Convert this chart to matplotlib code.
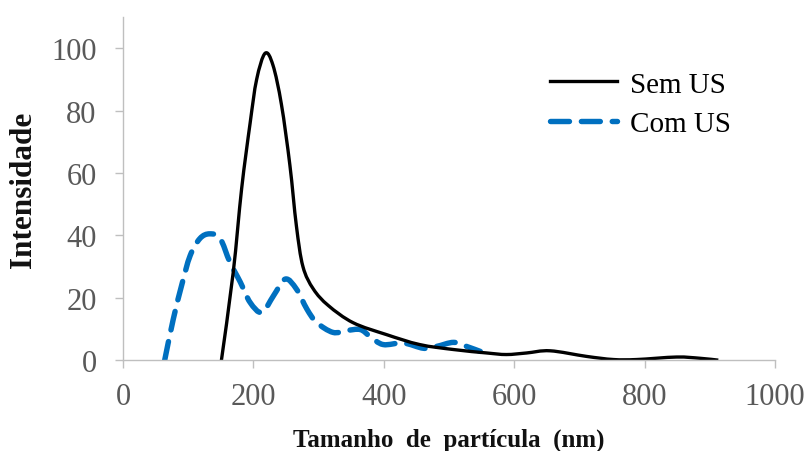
import numpy as np
import matplotlib
matplotlib.use("Agg")
import matplotlib.pyplot as plt
from matplotlib.path import Path
from matplotlib.patches import PathPatch
from matplotlib.lines import Line2D

# Data
sem_x = [151, 169, 182, 195, 205, 218, 230, 243, 256, 266, 276, 292, 315, 353, 404,
         455, 507, 558, 588, 619, 655, 711, 752, 788, 849, 885, 913]
sem_y = [0, 28, 55, 76, 90, 98.4, 94.6, 82, 62.5, 43, 30, 22.8, 17.5, 12, 8.2,
         5, 3.4, 2.3, 1.8, 2.3, 3, 1.2, 0.2, 0.2, 1, 0.6, 0]

com_x = [64, 77, 90, 103, 118, 133, 149, 164, 180, 195, 213, 231, 249, 266, 282, 297,
         322, 343, 364, 379, 399, 430, 461, 481, 507, 527, 548]
com_y = [0, 13, 24, 33.5, 39, 40.5, 39, 31.4, 25, 18.5, 15.3, 20.7, 26, 22.8, 16.4, 12.1,
         8.9, 9.5, 9.8, 7.6, 5, 5.5, 3.8, 4.4, 5.7, 4.4, 2.8]

labels = ["Sem US", "Com US"]
xticks = [0, 200, 400, 600, 800, 1000]
yticks = [0, 20, 40, 60, 80, 100]

SERIF = ["Liberation Serif", "DejaVu Serif"]
plt.rcParams["font.family"] = SERIF


def smooth_path(xs, ys):
    pts = np.column_stack([xs, ys]).astype(float)
    n = len(pts)
    verts = [pts[0]]
    codes = [Path.MOVETO]
    for i in range(n - 1):
        p0 = pts[i - 1] if i > 0 else pts[i]
        p1 = pts[i]
        p2 = pts[i + 1]
        p3 = pts[i + 2] if i + 2 < n else pts[i + 1]
        c1 = p1 + (p2 - p0) / 6.0
        c2 = p2 - (p3 - p1) / 6.0
        verts += [c1, c2, p2]
        codes += [Path.CURVE4] * 3
    return Path(verts, codes)


fig = plt.figure(figsize=(8.09, 4.52), dpi=100)
ax = fig.add_axes([0.152, 0.201, 0.806, 0.759])

black = "#000000"
blue = "#0070C0"
dash = (0, (3.5, 2.2))

p1 = PathPatch(smooth_path(sem_x, sem_y), fill=False, edgecolor=black, lw=2.4,
               capstyle="butt", joinstyle="round")
p2 = PathPatch(smooth_path(com_x, com_y), fill=False, edgecolor=blue, lw=3.9,
               linestyle=dash, capstyle="round", joinstyle="round")
ax.add_patch(p2)
ax.add_patch(p1)

ax.set_xlim(0, 1000)
ax.set_ylim(0, 110)
ax.set_xticks(xticks)
ax.set_yticks(yticks)
ax.set_xticklabels([str(t) for t in xticks])
ax.set_yticklabels([str(t) for t in yticks])

for s in ["top", "right"]:
    ax.spines[s].set_visible(False)
for s in ["left", "bottom"]:
    ax.spines[s].set_color("#bfbfbf")
    ax.spines[s].set_linewidth(1.0)

ax.tick_params(axis="both", colors="#bfbfbf", labelcolor="#595959",
               labelsize=22, length=6, width=1.0, direction="out")
ax.tick_params(axis="x", pad=10)
ax.tick_params(axis="y", pad=13)

ax.set_xlabel("Tamanho  de  partícula  (nm)", fontsize=18, fontweight="bold",
              color="#111111", labelpad=11.5)
ax.set_ylabel("Intensidade", fontsize=22.5, fontweight="bold", color="#111111",
              labelpad=9.5)

handles = [Line2D([], [], color=black, lw=2.4),
           Line2D([], [], color=blue, lw=3.9, linestyle=dash, dash_capstyle="round")]
leg = ax.legend(handles, labels, loc="upper left", bbox_to_anchor=(0.655, 0.842),
                frameon=False, fontsize=21, handlelength=2.3, handletextpad=0.45,
                labelspacing=0.45, borderpad=0, borderaxespad=0)
for t in leg.get_texts():
    t.set_color("#000000")

fig.savefig("out.png", dpi=100)
